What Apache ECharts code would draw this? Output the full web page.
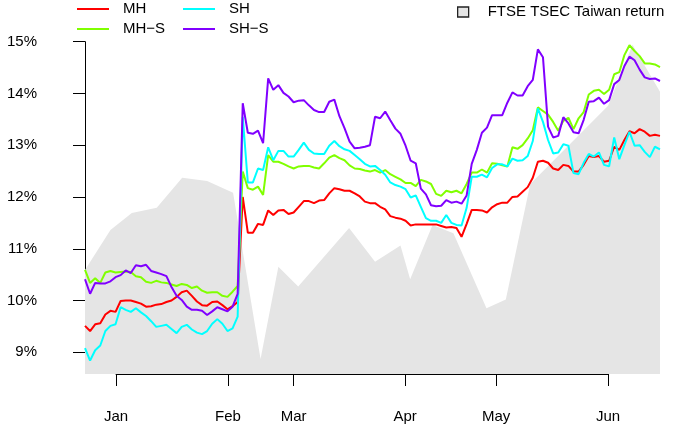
<!DOCTYPE html>
<html>
<head>
<meta charset="utf-8">
<script src="https://cdn.jsdelivr.net/npm/echarts@6/dist/echarts.min.js"></script>
<style>
  html, body { margin: 0; padding: 0; background: #fff; }
  #chart { width: 675px; height: 429px; }
</style>
</head>
<body>
<div id="chart"></div>
<script>
// trading-day index 0..113, values in %
const mh = [
  9.51, 9.41, 9.54, 9.56, 9.73, 9.80, 9.78, 9.99, 10.00, 10.00,
  9.97, 9.94, 9.88, 9.89, 9.92, 9.93, 9.97, 10.00, 10.07, 10.16,
  10.19, 10.09, 9.98, 9.91, 9.90, 9.97, 9.98, 9.91, 9.83, 9.89,
  9.97, 12.00, 11.31, 11.31, 11.48, 11.46, 11.74, 11.65, 11.74, 11.75,
  11.67, 11.70, 11.81, 11.92, 11.92, 11.88, 11.93, 11.94, 12.07, 12.17,
  12.15, 12.12, 12.12, 12.07, 12.01, 11.91, 11.88, 11.88, 11.81, 11.76,
  11.63, 11.60, 11.58, 11.54, 11.45, 11.47, 11.47, 11.47, 11.47, 11.47,
  11.44, 11.41, 11.42, 11.40, 11.23, 11.48, 11.75, 11.75, 11.74, 11.70,
  11.80, 11.86, 11.89, 11.89, 12.00, 12.01, 12.10, 12.19, 12.37, 12.68,
  12.70, 12.66, 12.55, 12.52, 12.62, 12.60, 12.49, 12.49, 12.62, 12.79,
  12.77, 12.79, 12.68, 12.70, 12.97, 12.91, 13.10, 13.27, 13.23, 13.31,
  13.26, 13.18, 13.20, 13.18
]
const mhS = [
  10.59, 10.34, 10.43, 10.34, 10.54, 10.57, 10.54, 10.55, 10.56, 10.55,
  10.47, 10.45, 10.36, 10.34, 10.38, 10.35, 10.34, 10.31, 10.28, 10.32,
  10.30, 10.24, 10.27, 10.19, 10.15, 10.16, 10.16, 10.09, 10.07, 10.17,
  10.28, 12.49, 12.17, 12.14, 12.20, 12.04, 12.81, 12.68, 12.68, 12.64,
  12.59, 12.55, 12.59, 12.60, 12.60, 12.57, 12.55, 12.65, 12.76, 12.81,
  12.75, 12.71, 12.61, 12.55, 12.54, 12.51, 12.49, 12.52, 12.47, 12.52,
  12.44, 12.39, 12.34, 12.27, 12.27, 12.21, 12.33, 12.30, 12.25, 12.06,
  12.02, 12.12, 12.09, 12.12, 12.07, 12.25, 12.47, 12.47, 12.53, 12.47,
  12.65, 12.64, 12.61, 12.59, 12.96, 12.93, 13.00, 13.13, 13.29, 13.73,
  13.66, 13.59, 13.45, 13.28, 13.47, 13.53, 13.31, 13.52, 13.64, 13.98,
  14.05, 14.07, 13.99, 14.07, 14.37, 14.41, 14.74, 14.93, 14.82, 14.72,
  14.58, 14.58, 14.56, 14.51
]
const sh = [
  9.08, 8.84, 9.04, 9.13, 9.41, 9.51, 9.54, 9.87, 9.82, 9.78,
  9.85, 9.77, 9.70, 9.60, 9.49, 9.51, 9.53, 9.45, 9.37, 9.49,
  9.53, 9.44, 9.38, 9.35, 9.41, 9.55, 9.64, 9.55, 9.41, 9.46,
  9.69, 13.55, 12.28, 12.28, 12.55, 12.52, 12.96, 12.71, 12.89, 12.89,
  12.78, 12.78, 12.91, 13.05, 12.91, 12.84, 12.83, 12.83, 12.99, 13.08,
  12.98, 12.92, 12.89, 12.81, 12.73, 12.64, 12.59, 12.60, 12.52, 12.43,
  12.28, 12.23, 12.20, 12.15, 11.99, 12.03, 11.81, 11.59, 11.54, 11.54,
  11.50, 11.65, 11.50, 11.46, 11.45, 11.79, 12.39, 12.39, 12.43, 12.38,
  12.56, 12.63, 12.63, 12.59, 12.74, 12.70, 12.71, 12.79, 13.08, 13.71,
  13.45, 13.10, 12.84, 12.86, 13.02, 12.99, 12.46, 12.44, 12.66, 12.83,
  12.78, 12.86, 12.62, 12.59, 13.15, 12.73, 13.00, 13.26, 12.99, 13.00,
  12.87, 12.77, 12.97, 12.92
]
const shS = [
  10.41, 10.13, 10.34, 10.33, 10.33, 10.37, 10.45, 10.49, 10.58, 10.53,
  10.68, 10.66, 10.69, 10.57, 10.54, 10.51, 10.47, 10.26, 10.09, 10.01,
  9.88, 9.82, 9.82, 9.80, 9.72, 9.79, 9.87, 9.83, 9.79, 9.88,
  10.13, 13.81, 13.24, 13.22, 13.28, 13.04, 14.29, 14.07, 14.16, 14.01,
  13.94, 13.83, 13.86, 13.87, 13.77, 13.68, 13.64, 13.64, 13.84, 13.88,
  13.56, 13.33, 13.07, 12.94, 12.95, 12.97, 13.00, 13.55, 13.52, 13.65,
  13.48, 13.32, 13.22, 12.99, 12.70, 12.65, 12.16, 12.05, 11.84, 11.82,
  11.83, 11.94, 11.89, 11.91, 11.87, 12.03, 12.64, 12.91, 13.24, 13.34,
  13.58, 13.58, 13.58, 13.82, 14.02, 13.96, 13.96, 14.14, 14.26, 14.85,
  14.70, 13.36, 13.15, 13.18, 13.54, 13.42, 13.25, 13.23, 13.49, 13.84,
  13.85, 13.92, 13.80, 13.87, 14.18, 14.26, 14.53, 14.71, 14.64, 14.46,
  14.31, 14.28, 14.29, 14.24
]
// FTSE TSEC Taiwan return (weekly points, drawn on the same visual scale)
const ftseX = [0, 5, 9.2, 14.1, 19.1, 24, 29.1, 34.5, 38, 41.9, 51.9, 57, 62, 63.9, 68.3, 72.4, 78.9, 82.7, 87.5, 102.8, 107.6, 113]
const ftseY = [10.59, 11.36, 11.69, 11.79, 12.37, 12.31, 12.08, 8.87, 10.65, 10.27, 11.40, 10.75, 11.06, 10.41, 11.46, 11.30, 9.85, 10.02, 12.25, 13.76, 14.94, 14.03]

const monthLabels = ['Jan', 'Feb', 'Mar', 'Apr', 'May', 'Jun']
const monthPos = [6.1, 28.1, 41, 62.9, 80.8, 102.8]

const nDays = mh.length
const plotLeft = 85
const plotRight = 660
const step = (plotRight - plotLeft) / (nDays - 1)
const yMin = 8.58
const yMax = 15.2
const font = '"Liberation Sans", Arial, Helvetica, sans-serif'

const toPairs = (arr) => arr.map((v, i) => [i, v])

const lineSeries = (name, data, color) => ({
  name,
  type: 'line',
  xAxisIndex: 0,
  yAxisIndex: 0,
  data: toPairs(data),
  symbol: 'none',
  silent: true,
  color,
  lineStyle: { color, width: 2 },
  itemStyle: { color },
  z: 3,
})

const chart = echarts.init(document.getElementById('chart'))

const legendBase = {
  orient: 'vertical',
  selectedMode: false,
  padding: 0,
  icon: 'rect',
  itemWidth: 32,
  itemHeight: 2,
  itemGap: 4,
  textStyle: {
    fontFamily: font,
    fontSize: 15,
    color: '#000',
    lineHeight: 16,
    padding: [0, 0, 0, 9],
  },
}

chart.setOption({
  animation: false,
  textStyle: { fontFamily: font },
  grid: [
    { left: plotLeft, right: 675 - plotRight, top: 31.3, bottom: 55 },
    { left: plotLeft, right: 675 - plotRight, top: 41.7, bottom: 76.7 },
    {
      left: plotLeft + monthPos[0] * step,
      right: 675 - (plotLeft + monthPos[monthPos.length - 1] * step),
      top: 31.3,
      bottom: 55,
    },
  ],
  xAxis: [
    { type: 'value', gridIndex: 0, min: 0, max: nDays - 1, show: false },
    { type: 'value', gridIndex: 1, min: 0, max: nDays - 1, show: false },
    {
      type: 'value',
      gridIndex: 2,
      min: monthPos[0],
      max: monthPos[monthPos.length - 1],
      axisLine: { show: true, lineStyle: { color: '#000', width: 1 } },
      axisTick: { show: true, length: 12, customValues: monthPos, lineStyle: { color: '#000' } },
      axisLabel: {
        customValues: monthPos,
        formatter: (v) => {
          const k = monthPos.findIndex((p) => Math.abs(p - v) < 1e-6)
          return k >= 0 ? monthLabels[k] : ''
        },
        fontSize: 15,
        color: '#000',
        margin: 35,
        fontFamily: font,
      },
      splitLine: { show: false },
    },
  ],
  yAxis: [
    { type: 'value', gridIndex: 0, min: yMin, max: yMax, show: false },
    {
      type: 'value',
      gridIndex: 1,
      min: 9,
      max: 15,
      interval: 1,
      offset: 23,
      axisLine: { show: true, lineStyle: { color: '#000', width: 1 } },
      axisTick: { show: true, length: 12, lineStyle: { color: '#000' } },
      axisLabel: {
        formatter: '{value}%',
        fontSize: 15,
        color: '#000',
        margin: 25,
        fontFamily: font,
      },
      splitLine: { show: false },
    },
    { type: 'value', gridIndex: 2, min: yMin, max: yMax, show: false },
  ],
  legend: [
    Object.assign({}, legendBase, { left: 77, top: 1, data: ['MH', 'MH−S'] }),
    Object.assign({}, legendBase, { left: 183, top: 1, data: ['SH', 'SH−S'] }),
    {
      orient: 'vertical',
      selectedMode: false,
      padding: 0,
      left: 457,
      top: 4,
      itemWidth: 11,
      itemHeight: 10,
      textStyle: {
        fontFamily: font,
        fontSize: 15,
        color: '#000',
        lineHeight: 16,
        padding: [0, 0, 0, 14],
      },
      data: [{
        name: 'FTSE TSEC Taiwan return',
        icon: 'rect',
        itemStyle: { color: '#e5e5e5', borderColor: '#222', borderWidth: 1.3 },
      }],
    },
  ],
  series: [
    {
      name: 'FTSE TSEC Taiwan return',
      type: 'line',
      xAxisIndex: 0,
      yAxisIndex: 0,
      data: ftseX.map((x, i) => [x, ftseY[i]]),
      symbol: 'none',
      silent: true,
      color: '#e5e5e5',
      lineStyle: { width: 0 },
      areaStyle: { color: '#e5e5e5', opacity: 1, origin: 'start' },
      z: 1,
    },
    lineSeries('MH', mh, '#FF0000'),
    lineSeries('MH−S', mhS, '#80FF00'),
    lineSeries('SH', sh, '#00FFFF'),
    lineSeries('SH−S', shS, '#8000FF'),
  ],
})
</script>
</body>
</html>
